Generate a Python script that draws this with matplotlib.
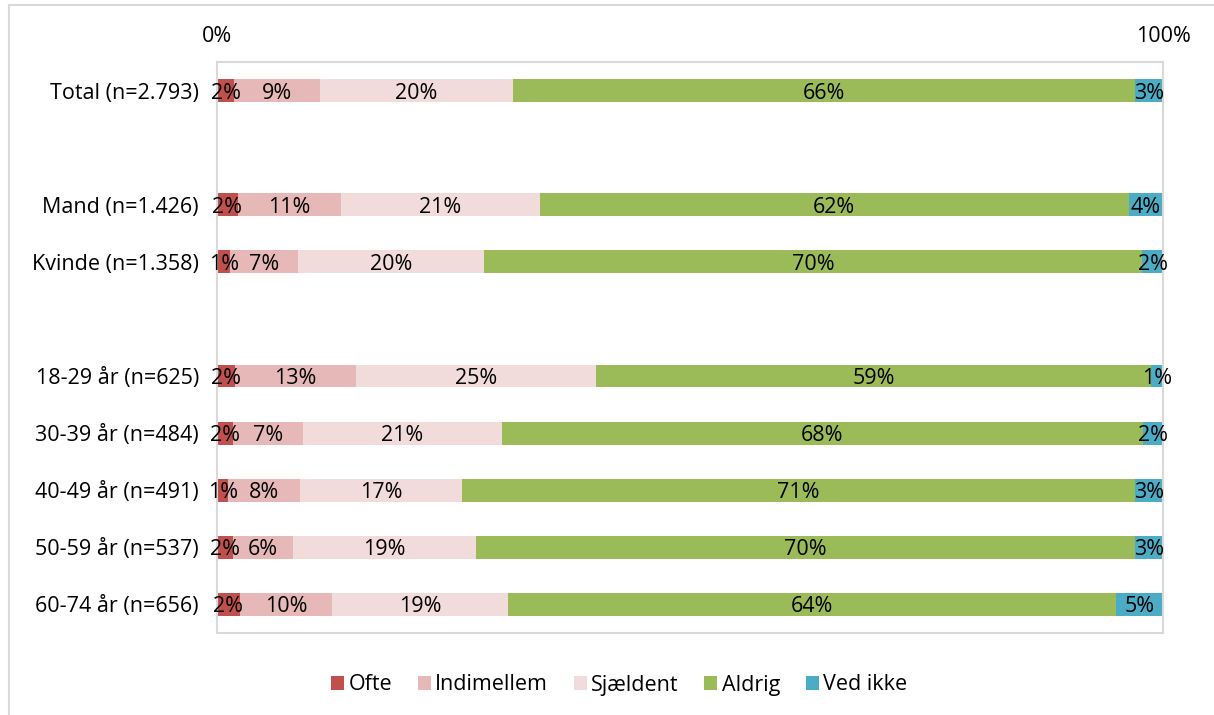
import numpy as np
import matplotlib.pyplot as plt
from matplotlib.lines import Line2D

plt.rcParams['font.family'] = ['Open Sans', 'DejaVu Sans']

groups = ["Total (n=2.793)", "Mand (n=1.426)", "Kvinde (n=1.358)",
          "18-29 år (n=625)", "30-39 år (n=484)", "40-49 år (n=491)",
          "50-59 år (n=537)", "60-74 år (n=656)"]
ypos = [0, 2, 3, 5, 6, 7, 8, 9]

categories = ["Ofte", "Indimellem", "Sjældent", "Aldrig", "Ved ikke"]
ofte = [1.8, 2.2, 1.4, 1.9, 1.7, 1.2, 1.7, 2.4]
indimellem = [9.1, 10.9, 7.2, 12.8, 7.4, 7.6, 6.3, 9.8]
sjaeldent = [20.4, 21.0, 19.6, 25.4, 21.0, 17.1, 19.4, 18.6]
aldrig = [65.7, 62.3, 69.6, 58.6, 67.8, 71.1, 69.6, 64.2]
ved_ikke = [3.0, 3.6, 2.2, 1.3, 2.1, 3.0, 3.0, 5.0]
colors = ["#C0504D", "#E6B9B8", "#F2DCDB", "#9BBB59", "#4BACC6"]

series = [ofte, indimellem, sjaeldent, aldrig, ved_ikke]
fs = 15.5

fig = plt.figure(figsize=(12.14, 7.15), dpi=100)
ax = fig.add_axes([217/1214, 1-633/715, (1163-217)/1214, (633-62)/715])

left = np.zeros(len(groups))
for vals, name, col in zip(series, categories, colors):
    vals = np.array(vals)
    ax.barh(ypos, vals, left=left, height=0.4, color=col, label=name)
    for y, l, v in zip(ypos, left, vals):
        ax.text(l + v/2, y, "%.0f%%" % v, ha='center', va='center_baseline',
                fontsize=fs, color='black')
    left += vals

ax.set_xlim(0, 100)
ax.set_ylim(9.5, -0.5)
ax.set_yticks(ypos)
ax.set_yticklabels(groups, fontsize=fs)
ax.set_xticks([0, 100])
ax.set_xticklabels(["0%", "100%"], fontsize=fs)
ax.xaxis.tick_top()
ax.tick_params(axis='both', length=0)
ax.tick_params(axis='y', pad=13)
ax.tick_params(axis='x', pad=11)
for s in ax.spines.values():
    s.set_color('#D9D9D9')
    s.set_linewidth(1.5)

fig.legend(loc='center', bbox_to_anchor=(0.51, 1-685/715), ncol=5,
           frameon=False, fontsize=fs, handlelength=0.6, handleheight=0.6,
           handletextpad=0.2, columnspacing=1.2)

# outer chart border (partly visible)
fig.add_artist(Line2D([9/1214, 9/1214], [0, 1-5/715], color='#D9D9D9', lw=1.5))
fig.add_artist(Line2D([9/1214, 1], [1-5/715, 1-5/715], color='#D9D9D9', lw=1.5))

fig.savefig("out.png", dpi=100)
